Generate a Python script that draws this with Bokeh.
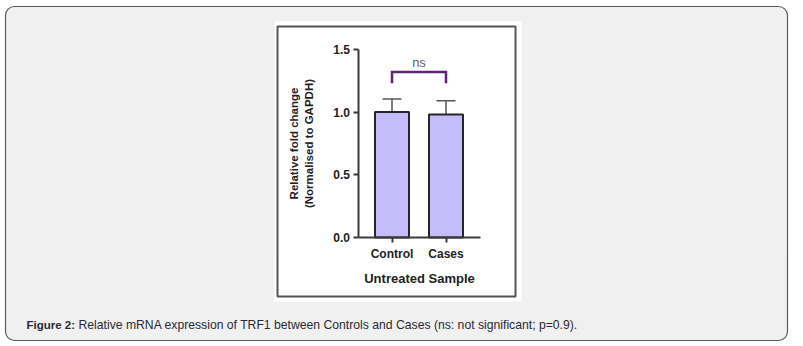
from bokeh.plotting import figure
from bokeh.models import (Range1d, ColumnDataSource, LinearAxis,
                          FixedTicker, PrintfTickFormatter)
from bokeh.core.properties import value
from bokeh.embed import file_html
from bokeh.resources import INLINE

# ---- data ----
categories = ["Control", "Cases"]
means = [1.00, 0.98]
upper_err = [1.105, 1.09]
y_ticks = [0.0, 0.5, 1.0, 1.5]
sig_y = [1.23, 1.32, 1.32, 1.23]
sig_text = "ns"
sig_text_y = 1.395
x_title = "Untreated Sample"
y_title = "Relative fold change\n(Normalised to GAPDH)"
caption_bold = "Figure 2:"
caption_rest = "Relative mRNA expression of TRF1 between Controls and Cases (ns: not significant; p=0.9)."

FONT = "Liberation Sans"
W, H = 803, 346

# ---- chart placement on the page (pixels) ----
AX_X = 357.5          # y-axis line
AX_Y = 237.0          # x-axis line (value 0)
PX_PER_VAL = 125.4    # pixels per 1.0 on y
CAT0_PX = 391.5       # centre of first category
CAT_STEP = 54.0       # pixels between categories

positions = [i for i, _ in enumerate(categories)]

src = ColumnDataSource(dict(pos=positions, mean=means, upper=upper_err))

p = figure(width=W, height=H, x_range=Range1d(0, W), y_range=Range1d(H, 0),
           output_backend="svg", toolbar_location=None,
           x_axis_location=None, y_axis_location=None, min_border=0)
p.border_fill_color = "white"
p.background_fill_color = "white"
p.outline_line_color = None
p.grid.visible = False

p.extra_x_ranges = {"cx": Range1d(-CAT0_PX / CAT_STEP, (W - CAT0_PX) / CAT_STEP)}
p.extra_y_ranges = {"val": Range1d(-(H - AX_Y) / PX_PER_VAL, AX_Y / PX_PER_VAL)}

# ---- page decorations ----
p.quad(left=5, right=787, top=6, bottom=340, fill_color="#f0f0f0",
       line_color="#5a5a5a", line_width=1.2, border_radius=9)
p.quad(left=274, right=521, top=21, bottom=301, fill_color="white", line_color=None)
p.quad(left=277, right=515, top=26, bottom=296, fill_color=None,
       line_color="#555555", line_width=2)

# ---- error bars (upper only) ----
p.segment(x0="pos", y0="mean", x1="pos", y1="upper", source=src,
          x_range_name="cx", y_range_name="val",
          line_color="#555555", line_width=1.5)
p.scatter(x="pos", y="upper", source=src, marker="dash", size=19,
          x_range_name="cx", y_range_name="val",
          line_color="#555555", line_width=1.5)

# ---- bars ----
p.vbar(x="pos", top="mean", width=34 / CAT_STEP, source=src,
       x_range_name="cx", y_range_name="val",
       fill_color="#c5bdfb", line_color="#262626", line_width=2)

# significance bracket
bx = [positions[0], positions[0], positions[1], positions[1]]
p.line(x=bx, y=sig_y, x_range_name="cx", y_range_name="val",
       line_color="#5e2277", line_width=2.5, line_join="miter")
p.text(x=[sum(positions) / len(positions)], y=[sig_text_y], text=[sig_text],
       x_range_name="cx", y_range_name="val",
       text_align="center", text_baseline="middle", text_font=value(FONT),
       text_font_size="13px", text_color="#666666")

# ---- axes ----
yax = LinearAxis(y_range_name="val", fixed_location=AX_X, bounds=(0, 1.5),
                 ticker=FixedTicker(ticks=y_ticks),
                 formatter=PrintfTickFormatter(format="%.1f"))
xax = LinearAxis(x_range_name="cx", fixed_location=AX_Y,
                 bounds=((AX_X - CAT0_PX) / CAT_STEP, (479.5 - CAT0_PX) / CAT_STEP),
                 ticker=FixedTicker(ticks=positions),
                 major_label_overrides={pos: c for pos, c in zip(positions, categories)})
for ax in (xax, yax):
    ax.axis_line_color = "#3a3a3a"
    ax.axis_line_width = 2
    ax.major_tick_line_color = "#3a3a3a"
    ax.major_tick_line_width = 2
    ax.major_tick_out = 5
    ax.major_tick_in = 0
    ax.minor_tick_line_color = None
    ax.major_label_text_font = FONT
    ax.major_label_text_font_style = "bold"
    ax.major_label_text_font_size = "12px"
    ax.major_label_text_color = "#222222"
    ax.axis_label_text_font = FONT
    ax.axis_label_text_font_style = "bold"
    ax.axis_label_text_color = "#222222"

yax.major_label_standoff = 3
yax.axis_label = y_title
yax.axis_label_text_font_size = "11.5px"
yax.axis_label_standoff = 16
xax.major_label_standoff = 4
xax.axis_label = x_title
xax.axis_label_text_font_size = "13px"
xax.axis_label_standoff = 7
p.add_layout(yax, "left")
p.add_layout(xax, "below")

# ---- caption ----
p.text(x=[26], y=[324], text=[caption_bold], text_font=value(FONT),
       text_font_style="bold", text_font_size="11.5px", text_color="#2a2a35",
       text_baseline="middle")
p.text(x=[78], y=[324], text=[caption_rest], text_font=value(FONT),
       text_font_size="12.2px", text_color="#2a2a35", text_baseline="middle")

open("out.html", "w").write(file_html(p, INLINE))
